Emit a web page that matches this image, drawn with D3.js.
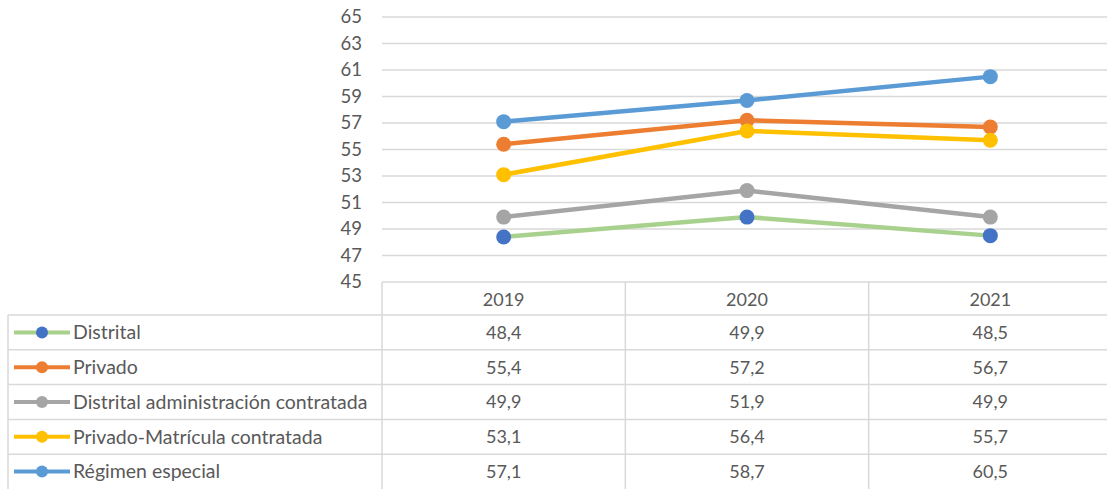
<!DOCTYPE html>
<html>
<head>
<meta charset="utf-8">
<script src="https://cdn.jsdelivr.net/npm/d3@7"></script>
<style>
  body { margin: 0; background: #fff; }
  text { font-family: Lato, "Open Sans", sans-serif; fill: #595959; }
</style>
</head>
<body>
<div id="chart"></div>
<script>
const years = ["2019", "2020", "2021"];
const seriesNames = ["Distrital", "Privado", "Distrital administración contratada", "Privado-Matrícula contratada", "Régimen especial"];
const distrital = [48.4, 49.9, 48.5];
const privado = [55.4, 57.2, 56.7];
const distritalAdm = [49.9, 51.9, 49.9];
const privadoMat = [53.1, 56.4, 55.7];
const regimen = [57.1, 58.7, 60.5];
const yTicks = [45, 47, 49, 51, 53, 55, 57, 59, 61, 63, 65];

const lineColors = ["#A9D18E", "#ED7D31", "#A5A5A5", "#FFC000", "#5B9BD5"];
const markerColors = ["#4472C4", "#ED7D31", "#A5A5A5", "#FFC000", "#5B9BD5"];

const series = [distrital, privado, distritalAdm, privadoMat, regimen].map((v, i) => ({
  name: seriesNames[i], values: v, line: lineColors[i], marker: markerColors[i]
}));

const width = 1107, height = 489;
const plot = { left: 382, right: 1112, top: 17, bottom: 282 };
const tableLeft = 8;
const headerH = 33;
const rowH = 34.8;

const svg = d3.select("#chart").append("svg")
  .attr("width", width)
  .attr("height", height);

const x = d3.scaleBand().domain(years).range([plot.left, plot.right]);
const y = d3.scaleLinear().domain([45, 65]).range([plot.bottom, plot.top]);

// gridlines
svg.append("g")
  .selectAll("line")
  .data(yTicks.filter(d => d !== 45))
  .enter()
  .append("line")
  .attr("x1", plot.left).attr("x2", plot.right)
  .attr("y1", d => y(d)).attr("y2", d => y(d))
  .attr("stroke", "#D9D9D9")
  .attr("stroke-width", 1.5);

// y labels
svg.append("g")
  .selectAll("text")
  .data(yTicks)
  .enter()
  .append("text")
  .attr("x", 362)
  .attr("y", d => y(d))
  .attr("dy", "0.35em")
  .attr("text-anchor", "end")
  .attr("font-size", "18.5px")
  .text(d => d);

// table
const grid = svg.append("g").attr("stroke", "#D9D9D9").attr("stroke-width", 1.5);
const tableBottom = plot.bottom + headerH + rowH * series.length;
grid.append("line").attr("x1", plot.left).attr("x2", plot.right).attr("y1", plot.bottom).attr("y2", plot.bottom);
series.forEach((s, i) => {
  const yy = plot.bottom + headerH + rowH * i;
  grid.append("line").attr("x1", tableLeft).attr("x2", plot.right).attr("y1", yy).attr("y2", yy);
});
grid.append("line").attr("x1", tableLeft).attr("x2", tableLeft)
  .attr("y1", plot.bottom + headerH).attr("y2", tableBottom);
years.forEach(yr => {
  grid.append("line").attr("x1", x(yr)).attr("x2", x(yr))
    .attr("y1", plot.bottom).attr("y2", tableBottom);
});

// header years
svg.append("g")
  .selectAll("text")
  .data(years)
  .enter()
  .append("text")
  .attr("x", d => x(d) + x.bandwidth() / 2)
  .attr("y", plot.bottom + headerH / 2 + 1)
  .attr("dy", "0.35em")
  .attr("text-anchor", "middle")
  .attr("font-size", "18px")
  .text(d => d);

// table rows
const rows = svg.append("g")
  .selectAll("g")
  .data(series)
  .enter()
  .append("g")
  .attr("transform", (d, i) => `translate(0, ${plot.bottom + headerH + rowH * i + rowH / 2})`);

rows.append("line")
  .attr("x1", 14).attr("x2", 70)
  .attr("y1", 0).attr("y2", 0)
  .attr("stroke", d => d.line)
  .attr("stroke-width", 4);
rows.append("circle")
  .attr("cx", 42).attr("cy", 0).attr("r", 6)
  .attr("fill", d => d.marker);
rows.append("text")
  .attr("x", 73)
  .attr("dy", "0.35em")
  .attr("font-size", "19.5px")
  .text(d => d.name);

rows.selectAll("text.val")
  .data(d => d.values)
  .enter()
  .append("text")
  .attr("class", "val")
  .attr("x", (d, i) => x(years[i]) + x.bandwidth() / 2)
  .attr("dy", "0.35em")
  .attr("text-anchor", "middle")
  .attr("font-size", "18px")
  .text(d => d3.format(".1f")(d).replace(".", ","));

// lines
const line = d3.line()
  .x((d, i) => x(years[i]) + x.bandwidth() / 2)
  .y(d => y(d));

const lines = svg.append("g")
  .selectAll("g")
  .data(series)
  .enter()
  .append("g");

lines.append("path")
  .attr("d", d => line(d.values))
  .attr("fill", "none")
  .attr("stroke", d => d.line)
  .attr("stroke-width", 4.5)
  .attr("stroke-linejoin", "round")
  .attr("stroke-linecap", "round");

lines.selectAll("circle")
  .data(d => d.values.map(v => ({ v, c: d.marker })))
  .enter()
  .append("circle")
  .attr("cx", (d, i) => x(years[i]) + x.bandwidth() / 2)
  .attr("cy", d => y(d.v))
  .attr("r", 7.5)
  .attr("fill", d => d.c);
</script>
</body>
</html>
